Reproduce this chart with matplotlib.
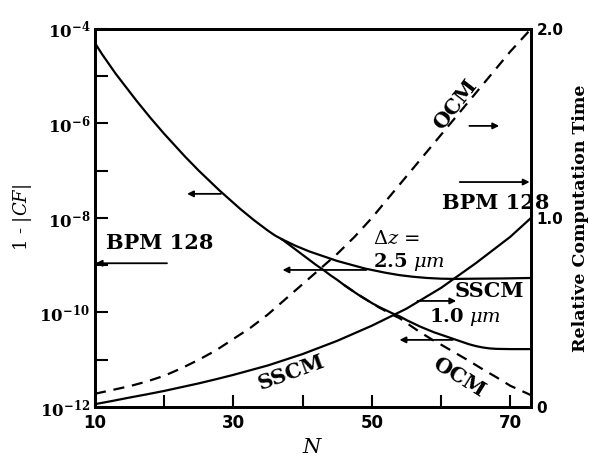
import numpy as np
import matplotlib
matplotlib.use("Agg")
import matplotlib.pyplot as plt
from matplotlib.ticker import FixedLocator, FixedFormatter
from matplotlib.font_manager import FontProperties

plt.rcParams['mathtext.fontset'] = 'dejavuserif'

# ---------------- data ----------------
# common error curve (all methods coincide at small N), log10(1-|CF|)
n_common = [10, 11, 12, 13, 14, 15, 16, 17, 18, 19, 20, 21, 22, 23, 24, 25, 26, 27, 28,
            29, 30, 31, 32, 33, 34, 35, 36, 37]
err_common = [-4.30, -4.53, -4.74, -4.95, -5.14, -5.33, -5.52, -5.70, -5.88, -6.05, -6.22,
              -6.38, -6.54, -6.70, -6.85, -7.00, -7.14, -7.28, -7.42, -7.55, -7.68, -7.81,
              -7.93, -8.05, -8.16, -8.27, -8.37, -8.45]

# SSCM dz = 2.5 um branch
n_sscm25 = [38, 39, 40, 41, 42, 43, 44, 45, 46, 47, 48, 49, 50, 52, 54, 56, 58, 60, 62, 65, 69, 73]
err_sscm25 = [-8.52, -8.59, -8.65, -8.71, -8.76, -8.81, -8.86, -8.91, -8.95, -8.99, -9.03,
              -9.07, -9.10, -9.16, -9.21, -9.245, -9.27, -9.285, -9.29, -9.285, -9.28, -9.27]

# SSCM dz = 1.0 um branch
n_sscm10 = [38, 39, 40, 41, 42, 43, 44, 45, 46, 47, 48, 49, 50, 51, 52, 53, 54, 55, 56, 57,
            58, 59, 60, 61, 62, 63, 64, 65, 66, 67, 68, 70, 73]
err_sscm10 = [-8.56, -8.67, -8.78, -8.89, -9.00, -9.10, -9.21, -9.31, -9.42, -9.52, -9.62,
              -9.71, -9.80, -9.88, -9.95, -10.02, -10.08, -10.16, -10.23, -10.30, -10.36,
              -10.42, -10.47, -10.52, -10.57, -10.62, -10.67, -10.71, -10.74, -10.76,
              -10.77, -10.775, -10.775]

# OCM error branch (dashed)
n_ocm_err = [46, 47, 48, 49, 50, 51, 52, 53, 54, 55, 56, 57, 58, 59, 60, 62, 64, 66, 68, 70, 73]
err_ocm = [-9.42, -9.52, -9.62, -9.71, -9.80, -9.89, -9.97, -10.05, -10.12, -10.22, -10.32,
           -10.42, -10.51, -10.60, -10.68, -10.85, -11.02, -11.20, -11.37, -11.55, -11.75]

# relative computation time
n_time = [10, 12.5, 15, 17.5, 20, 22.5, 25, 27.5, 30, 32.5, 35, 37.5, 40, 42.5, 45, 47.5,
          50, 52.5, 55, 57.5, 60, 62.5, 65, 67.5, 70, 73]
time_ocm = [0.07, 0.09, 0.11, 0.135, 0.165, 0.205, 0.25, 0.30, 0.36, 0.42, 0.49, 0.57,
            0.65, 0.73, 0.81, 0.90, 1.00, 1.11, 1.22, 1.33, 1.44, 1.55, 1.66, 1.77, 1.88, 2.0]
time_sscm = [0.015, 0.032, 0.05, 0.067, 0.085, 0.105, 0.125, 0.147, 0.17, 0.195, 0.22,
             0.25, 0.28, 0.315, 0.35, 0.39, 0.43, 0.475, 0.52, 0.575, 0.63, 0.695, 0.76,
             0.83, 0.90, 1.0]

bpm_err = 1.1e-9
bpm_time = 1.19

x_ticks = [10, 20, 30, 40, 50, 60, 70]
x_labels = ['10', '', '30', '', '50', '', '70']
y_exps = [-12, -11, -10, -9, -8, -7, -6, -5, -4]
r_ticks = [0, 1.0, 2.0]
r_labels = ['0', '1.0', '2.0']

# ---------------- figure ----------------
fig = plt.figure(figsize=(5.9, 4.59), dpi=100)
ax = fig.add_axes([0.161, 0.1133, 0.739, 0.8237])
ax2 = ax.twinx()

lw = 1.6
def p(vals):
    return [10.0 ** v for v in vals]

ax.plot(n_ocm_err, p(err_ocm), color='black', lw=lw, dashes=(5, 3.5))
ax.plot(n_common, p(err_common), color='black', lw=lw)
ax.plot([n_common[-1]] + n_sscm25, p([err_common[-1]] + err_sscm25), color='black', lw=lw)
ax.plot([n_common[-1]] + n_sscm10, p([err_common[-1]] + err_sscm10), color='black', lw=lw)

ax2.plot(n_time, time_ocm, color='black', lw=lw, dashes=(5, 3.5))
ax2.plot(n_time, time_sscm, color='black', lw=lw)

ax.set_yscale('log')
ax.set_xlim(10, 73)
ax.set_ylim(1e-12, 1e-4)
ax2.set_ylim(0, 2.0)

ax.xaxis.set_major_locator(FixedLocator(x_ticks))
ax.xaxis.set_major_formatter(FixedFormatter(x_labels))
ax.yaxis.set_major_locator(FixedLocator([10.0 ** e for e in y_exps]))
ax.yaxis.set_major_formatter(FixedFormatter(
    [r'$\mathbf{10^{%d}}$' % e if e % 2 == 0 else '' for e in y_exps]))
ax.yaxis.set_minor_locator(FixedLocator([]))
ax2.yaxis.set_major_locator(FixedLocator(r_ticks))
ax2.yaxis.set_major_formatter(FixedFormatter(r_labels))

tickfont = FontProperties(family='DejaVu Sans', weight='bold', size=11)
for lab in ax.get_xticklabels() + ax2.get_yticklabels():
    lab.set_fontproperties(tickfont)
ax.tick_params(axis='both', direction='in', length=9, width=1.5, labelsize=12)
ax.tick_params(axis='x', pad=5)
ax2.tick_params(axis='y', direction='in', length=0, width=1.5, pad=4)

for a in (ax, ax2):
    for s in a.spines.values():
        s.set_linewidth(2.0)

ax.set_xlabel('$N$', fontsize=15, labelpad=4)
ax.set_ylabel(r'1 - |$CF$|', fontsize=13, family='DejaVu Serif', labelpad=4)
ax2.set_ylabel('Relative Computation Time', fontsize=12.5, family='DejaVu Serif',
               weight='bold', labelpad=6)

# ---------------- annotations ----------------
aprops = dict(arrowstyle='-|>', color='black', lw=1.3, mutation_scale=9, shrinkA=0, shrinkB=0)
serif_b = dict(family='DejaVu Serif', weight='bold', ha='center', va='center')

# left-pointing arrow on main curve
ax.annotate('', xy=(23.3, 10 ** -7.49), xytext=(28.2, 10 ** -7.49), arrowprops=aprops)
# BPM 128 error
ax.annotate('', xy=(10.1, bpm_err), xytext=(20.4, bpm_err), arrowprops=aprops)
ax.text(19.4, 10 ** -8.53, 'BPM 128', fontsize=15, **serif_b)
# dz = 2.5 um
ax.annotate('', xy=(37.1, 10 ** -9.10), xytext=(49.2, 10 ** -9.10), arrowprops=aprops)
ax.text(53.6, 10 ** -8.44, r'$\Delta z$ =', fontsize=14, ha='center', va='center')
ax.text(55.3, 10 ** -8.93, r'$\mathbf{2.5}$ $\mu m$', fontsize=14, ha='center', va='center')
ax.text(67.0, 10 ** -9.55, 'SSCM', fontsize=15, **serif_b)
ax.text(63.4, 10 ** -10.1, r'$\mathbf{1.0}$ $\mu m$', fontsize=14, ha='center', va='center')
ax.annotate('', xy=(54.0, 10 ** -10.58), xytext=(61.7, 10 ** -10.58), arrowprops=aprops)
ax.text(62.6, 10 ** -11.36, 'OCM', fontsize=15, rotation=-32, **serif_b)
ax.text(38.3, 10 ** -11.28, 'SSCM', fontsize=15, rotation=20, **serif_b)

# right axis annotations
ax2.annotate('', xy=(62.2, 0.561), xytext=(56.6, 0.561), arrowprops=aprops)
ax2.annotate('', xy=(68.4, 1.487), xytext=(64.1, 1.487), arrowprops=aprops)
ax2.text(62.1, 1.60, 'OCM', fontsize=15, rotation=52, **serif_b)
ax2.annotate('', xy=(72.8, bpm_time), xytext=(62.7, bpm_time), arrowprops=aprops)
ax2.text(67.9, 1.08, 'BPM 128', fontsize=15, **serif_b)

fig.savefig('out.png', dpi=100)
